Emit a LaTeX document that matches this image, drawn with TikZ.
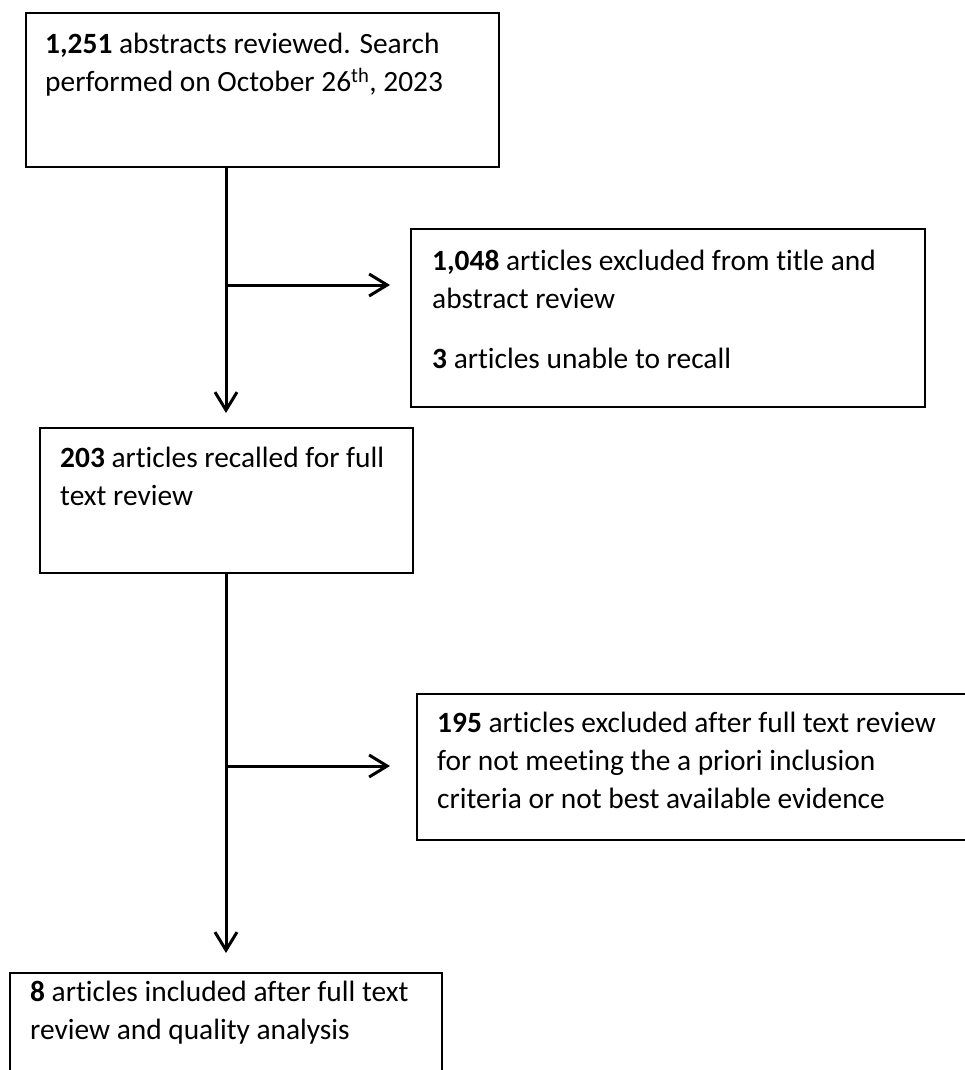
\documentclass[tikz,border=0pt]{standalone}
\usepackage{fontspec}
\setmainfont[Ligatures=NoCommon]{Carlito}
\usetikzlibrary{arrows.meta,calc}
\begin{document}
\begin{tikzpicture}[x=1pt,y=-1pt,
  box/.style={draw, line width=2pt, inner sep=0pt, anchor=north west},
  txt/.style={align=left, anchor=base west, inner sep=0pt, font=\fontsize{29.4}{38}\selectfont},
  conn/.style={line width=3pt},
  arr/.style={conn, -{Straight Barb[length=18pt,width=22pt]}}]
\useasboundingbox (0,0) rectangle (965,1070);
\node[box, minimum width=473pt, minimum height=154pt] (box1) at (25,12) {};
\node[box, minimum width=514pt, minimum height=178pt] (box2) at (410,228) {};
\node[box, minimum width=373pt, minimum height=145pt] (box3) at (39,427) {};
\node[box, minimum width=570pt, minimum height=146pt] (box4) at (416,693) {};
\node[box, minimum width=432pt, minimum height=120pt] (box5) at (9,972) {};
% base anchor of a multi-line node lies on its last line
\node[txt] (t1) at (45,92) {\textbf{1,251} abstracts reviewed. Search\\performed on October 26\textsuperscript{th}, 2023};
\node[txt] (t2) at (432,368) {\textbf{1,048} articles excluded from title and\\abstract review\\[22pt]\textbf{3} articles unable to recall};
\node[txt] (t3) at (60,505) {\textbf{203} articles recalled for full\\text review};
\node[txt] (t4) at (437,808) {\textbf{195} articles excluded after full text review\\for not meeting the a priori inclusion\\criteria or not best available evidence};
\node[txt] (t5) at (30,1039) {\textbf{8} articles included after full text\\review and quality analysis};
\coordinate (j1) at (226,285);
\coordinate (j2) at (226,766);
\draw[arr, shorten >=14pt] (box1.south -| j1) -- (box3.north -| j1);
\draw[arr, shorten >=20pt] (j1) -- (box2.west |- j1);
\draw[arr, shorten >=19pt] (box3.south -| j2) -- (box5.north -| j2);
\draw[arr, shorten >=26pt] (j2) -- (box4.west |- j2);
\end{tikzpicture}
\end{document}
